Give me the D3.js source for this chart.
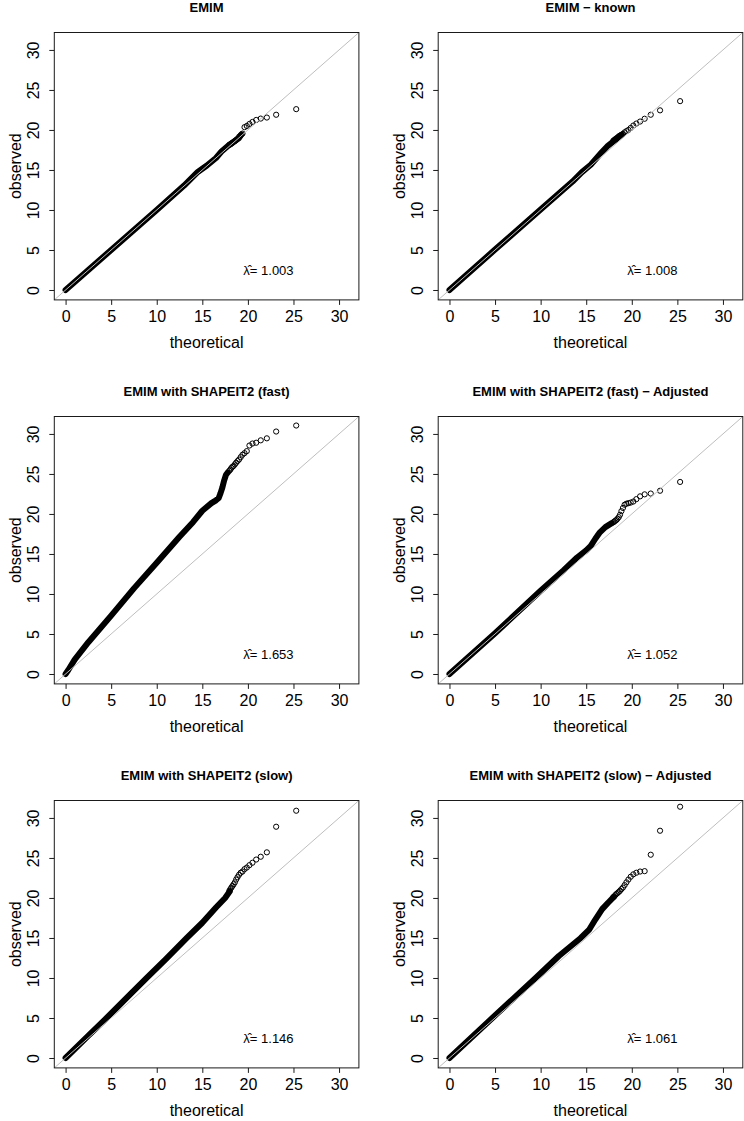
<!DOCTYPE html>
<html><head><meta charset="utf-8">
<script src="https://cdn.jsdelivr.net/npm/d3@7"></script>
<style>
body{margin:0;background:#fff}
svg{display:block}
text{font-family:"Liberation Sans",Arial,Helvetica,sans-serif;fill:#000}
</style>
</head><body>
<svg id="chart" width="744" height="1121"></svg>
<script>
// ---------- data ----------
const titles = [
  "EMIM",
  "EMIM \u2212 known",
  "EMIM with SHAPEIT2 (fast)",
  "EMIM with SHAPEIT2 (fast) \u2212 Adjusted",
  "EMIM with SHAPEIT2 (slow)",
  "EMIM with SHAPEIT2 (slow) \u2212 Adjusted"
];
const lambdas = ["1.003", "1.008", "1.653", "1.052", "1.146", "1.061"];
const ticks = [0, 5, 10, 15, 20, 25, 30];
const axisLimit = [0, 30.94];
const xLabel = "theoretical";
const yLabel = "observed";

// theoretical values of the largest (separately visible) points
const tailTheoretical = [25.3, 23.1, 22.08, 21.41, 20.91, 20.5, 20.17, 19.88, 19.63, 19.41,
                         19.21, 19.03, 18.86, 18.71, 18.57, 18.43, 18.31, 18.19, 18.08, 17.97];

// observed values of those points, one list per panel
const tailEMIM      = [22.6, 21.9, 21.55, 21.42, 21.25, 21.0, 20.75, 20.5, 20.35, 19.55,
                       19.35, 19.15, 18.9, 18.75, 18.6, 18.5, 18.4, 18.3, 18.2, 18.15];
const tailKnown     = [23.6, 22.45, 21.9, 21.4, 21.05, 20.8, 20.55, 20.25, 20.0, 19.85,
                       19.7, 19.5, 19.4, 19.3, 19.2, 19.05, 18.95, 18.85, 18.75, 18.65];
const tailFast      = [31.05, 30.3, 29.45, 29.2, 28.9, 28.8, 28.55, 27.85, 27.6, 27.4,
                       27.1, 26.8, 26.6, 26.4, 26.2, 26.0, 25.9, 25.75, 25.55, 25.4];
const tailFastAdj   = [24.0, 22.9, 22.55, 22.45, 22.2, 21.85, 21.55, 21.42, 21.35, 21.28,
                       21.15, 20.75, 20.35, 19.9, 19.6, 19.4, 19.25, 19.15, 19.05, 18.95];
const tailSlow      = [30.9, 28.9, 25.7, 25.15, 24.8, 24.4, 24.1, 23.8, 23.6, 23.3,
                       23.15, 22.9, 22.6, 22.3, 21.95, 21.7, 21.5, 21.3, 21.1, 20.9];
const tailSlowAdj   = [31.4, 28.4, 25.4, 23.35, 23.3, 23.15, 22.95, 22.65, 22.3, 21.95,
                       21.6, 21.3, 21.1, 20.9, 20.75, 20.6, 20.5, 20.35, 20.2, 20.1];

// dense body of each Q-Q cloud: [theoretical, observed] read along the band
const bandEMIM    = [[0,0],[5,5],[10,10],[13,13.05],[14.5,14.75],[15.5,15.55],[16.5,16.5],
                     [17.1,17.3],[17.9,18.1],[19.0,18.95],[19.3,19.45]];
const bandKnown   = [[0,0],[5,5.05],[10,10.05],[12,12.05],[13.5,13.55],[14.5,14.7],[15.5,15.65],
                     [16.7,17.2],[17.4,18.05],[18.2,18.75],[18.9,19.4]];
const bandFast    = [[0,0],[0.3,0.5],[1,1.8],[2.5,3.97],[5,7.3],[7.5,10.7],[10,13.9],[12.5,17.15],
                     [14,19.0],[15,20.4],[16,21.35],[16.5,21.7],[16.8,22.0],[17.0,22.6],[17.2,23.3],
                     [17.4,24.2],[17.6,24.9],[17.8,25.2]];
const bandFastAdj = [[0,0],[5,5.1],[10,10.4],[12.5,12.95],[14,14.55],[15,15.45],[15.5,16.0],
                     [16,16.9],[16.5,17.7],[17.1,18.35],[17.8,18.85]];
const bandSlow    = [[0,0],[2.5,2.8],[4.5,5.0],[7,7.85],[8.9,10],[11,12.35],[13.3,15],[15,16.9],
                     [16.5,18.8],[17.5,20.0],[18.0,20.8]];
const bandSlowAdj = [[0,0],[4.7,5.0],[9.45,10],[12,12.75],[14.4,15],[15.3,16.0],[16,17.3],
                     [16.75,18.6],[17.4,19.4],[18.0,20.1]];

const tails = [tailEMIM, tailKnown, tailFast, tailFastAdj, tailSlow, tailSlowAdj];
const bands = [bandEMIM, bandKnown, bandFast, bandFastAdj, bandSlow, bandSlowAdj];

// ---------- layout ----------
const colLeft = [54.3, 438.2];
const rowTop = [32.5, 416.5, 800.5];
const boxW = 304.6, boxH = 267.4;
const ext = (axisLimit[1] - axisLimit[0]) * 0.04;
const domain = [axisLimit[0] - ext, axisLimit[1] + ext];
const lambdaPos = [19.5, 1.85];

const svg = d3.select("#chart");

titles.forEach((title, i) => {
  const col = i % 2, row = Math.floor(i / 2);
  const g = svg.append("g").attr("transform", `translate(${colLeft[col]},${rowTop[row]})`);
  const x = d3.scaleLinear().domain(domain).range([0, boxW]);
  const y = d3.scaleLinear().domain(domain).range([boxH, 0]);

  const clipId = "clip" + i;
  g.append("clipPath").attr("id", clipId)
    .append("rect").attr("width", boxW).attr("height", boxH);

  const plot = g.append("g").attr("clip-path", `url(#${clipId})`);

  // dense body of points
  plot.append("path")
    .datum(bands[i])
    .attr("d", d3.line().x(d => x(d[0])).y(d => y(d[1])))
    .attr("fill", "none")
    .attr("stroke", "#000")
    .attr("stroke-width", 6)
    .attr("stroke-linecap", "round")
    .attr("stroke-linejoin", "round");

  // separately visible points
  plot.selectAll("circle")
    .data(tailTheoretical.map((t, k) => [t, tails[i][k]]))
    .join("circle")
    .attr("cx", d => x(d[0]))
    .attr("cy", d => y(d[1]))
    .attr("r", 2.6)
    .attr("fill", "none")
    .attr("stroke", "#000")
    .attr("stroke-width", 1);

  // reference line y = x
  plot.append("line")
    .attr("x1", x(domain[0])).attr("y1", y(domain[0]))
    .attr("x2", x(domain[1])).attr("y2", y(domain[1]))
    .attr("stroke", "#bebebe").attr("stroke-width", 1);

  // box
  g.append("rect").attr("width", boxW).attr("height", boxH)
    .attr("fill", "none").attr("stroke", "#1a1a1a").attr("stroke-width", 1);

  // x axis
  const xa = g.append("g").attr("transform", `translate(0,${boxH})`)
    .call(d3.axisBottom(x).tickValues(ticks).tickSize(5).tickPadding(6).tickFormat(d3.format("d")));
  xa.select(".domain").remove();
  xa.selectAll(".tick line").attr("stroke", "#1a1a1a");
  xa.selectAll(".tick text").attr("font-size", 16).attr("font-family", null).attr("fill", "#000");

  // y axis (labels parallel to axis)
  const ya = g.append("g")
    .call(d3.axisLeft(y).tickValues(ticks).tickSize(5).tickFormat(d3.format("d")));
  ya.select(".domain").remove();
  ya.selectAll(".tick line").attr("stroke", "#1a1a1a");
  ya.selectAll(".tick text")
    .attr("font-size", 16).attr("font-family", null).attr("fill", "#000")
    .attr("x", 0).attr("y", 0).attr("dy", null)
    .attr("text-anchor", "middle")
    .attr("transform", "translate(-15.3,0) rotate(-90)");

  // axis titles
  g.append("text").attr("x", boxW / 2).attr("y", boxH + 48.3)
    .attr("text-anchor", "middle").attr("font-size", 16).text(xLabel);
  g.append("text").attr("transform", `translate(-33.5,${boxH / 2}) rotate(-90)`)
    .attr("text-anchor", "middle").attr("font-size", 16).text(yLabel);

  // panel title
  g.append("text").attr("x", boxW / 2).attr("y", -21)
    .attr("text-anchor", "middle").attr("font-size", 13).attr("font-weight", "bold").text(title);

  // lambda annotation (lambda with combining circumflex)
  g.append("text").attr("x", x(lambdaPos[0])).attr("y", y(lambdaPos[1])).attr("font-size", 13)
    .text("\u03bb\u0302= " + lambdas[i]);
});
</script>
</body></html>
